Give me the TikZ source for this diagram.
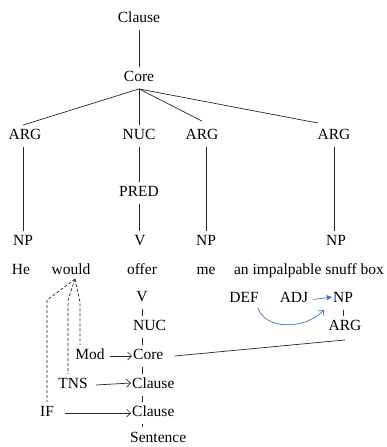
\documentclass[tikz,border=0pt]{standalone}
\usepackage{fontspec}
\setmainfont{Liberation Serif}
\newfontfamily\timesfont{Liberation Serif}
\usetikzlibrary{arrows.meta}
\definecolor{wordblue}{RGB}{68,114,196}
\begin{document}
\begin{tikzpicture}[x=1pt,y=-1pt,
  lbl/.style={font=\timesfont\fontsize{15.5}{18}\selectfont, inner xsep=1pt, inner ysep=4pt, text height=10.5pt, text depth=3pt},
  edge/.style={line width=0.7pt, draw=black!85},
  dash line/.style={edge, dash pattern=on 3pt off 2pt},
  arr/.style={edge, -{Straight Barb[length=4pt,width=8pt]}},
  blue arr/.style={draw=wordblue, line width=0.7pt},
]
\useasboundingbox (0,0) rectangle (386,447);
% upper tree
\node[lbl] (clause1) at (139,19) {Clause};
\node[lbl] (core1) at (139,78) {Core};
\node[lbl] (arg1) at (25,136) {ARG};
\node[lbl] (nuc1) at (139,136) {NUC};
\node[lbl] (arg2) at (202,136) {ARG};
\node[lbl] (arg3) at (334,136) {ARG};
\node[lbl] (pred) at (139,193) {PRED};
\node[lbl] (np1) at (23,242) {NP};
\node[lbl] (v1) at (140,242) {V};
\node[lbl] (np2) at (206,242) {NP};
\node[lbl] (np3) at (336,242) {NP};
% words
\node[lbl] (he) at (21,271) {He};
\node[lbl] (would) at (71,271) {would};
\node[lbl] (offer) at (142,271) {offer};
\node[lbl] (me) at (206,271) {me};
\node[lbl] (phrase) at (309,271) {an impalpable snuff box};
\draw[edge] (clause1) -- (core1);
\draw[edge] (core1.south) -- ([xshift=-2pt]arg1.north);
\draw[edge] (core1.south) -- (nuc1.north);
\draw[edge] (core1.south) -- ([yshift=4pt]arg2.north);
\draw[edge] (core1.south) -- ([xshift=-16pt,yshift=2pt]arg3.north);
\draw[edge] (np1 |- arg1.south) -- (np1.north);
\draw[edge] (nuc1) -- (pred);
\draw[edge] (pred) -- (pred |- v1.north);
\draw[edge] (np2 |- arg2.south) -- (np2.north);
\draw[edge] (arg3.south) -- (arg3 |- np3.north);
% lower chain
\node[lbl] (v2) at (142,298) {V};
\node[lbl, anchor=west] (nuc2) at (132,327) {NUC};
\node[lbl, anchor=west] (core2) at (132,356) {Core};
\node[lbl, anchor=west] (cl2) at (131,385) {Clause};
\node[lbl, anchor=west] (cl3) at (131,413) {Clause};
\node[lbl, anchor=west] (sent) at (129,439) {Sentence};
\draw[edge] (v2.south) -- (v2 |- nuc2.north);
\draw[edge] (v2 |- nuc2.south) -- (v2 |- core2.north);
\draw[edge] (v2 |- core2.south) -- (v2 |- cl2.north);
\draw[edge] (v2 |- cl2.south) -- (v2 |- cl3.north);
\draw[edge] (v2 |- cl3.south) -- ([yshift=1pt]v2 |- sent.north);
% operators
\node[lbl] (mod) at (90,356) {Mod};
\node[lbl] (tns) at (73,385) {TNS};
\node[lbl] (if) at (47,413) {IF};
\draw[arr, shorten <=4pt] (mod.east) -- (core2.west);
\draw[arr] ([xshift=7pt]tns.east) -- ([yshift=2pt]cl2.west);
\draw[arr] ([xshift=10pt]if.east) -- (cl3.west);
\coordinate (apex) at (75,279);
\coordinate (d1) at (80,302);
\coordinate (d2) at (68,300);
\coordinate (d3) at (47,300);
\draw[dash line] (apex) -- (d1) -- (d1 |- mod.north);
\draw[dash line] (apex) -- (d2) -- (d2 |- tns.north);
\draw[dash line] (apex) -- (d3) -- (d3 |- if.north);
% right NP
\node[lbl] (def) at (244,299) {DEF};
\node[lbl] (adj) at (294,299) {ADJ};
\node[lbl] (npb) at (343,299) {NP};
\node[lbl] (argb) at (345,327) {ARG};
\draw[edge] (npb.south) -- (npb |- argb.north);
\draw[edge] ([xshift=10pt]core2.east) -- ([yshift=-2pt]argb.south);
\draw[blue arr, -{Triangle[length=5pt,width=5pt]}, shorten <=4pt] ([yshift=-1pt]adj.east) -- ([yshift=2pt]npb.west);
\draw[blue arr, -{Straight Barb[length=4pt,width=7pt]}] ([xshift=-2pt,yshift=2pt]def.south east) .. controls (265,330) and (305,330) .. ([xshift=-8pt]npb.south west);
\end{tikzpicture}
\end{document}
